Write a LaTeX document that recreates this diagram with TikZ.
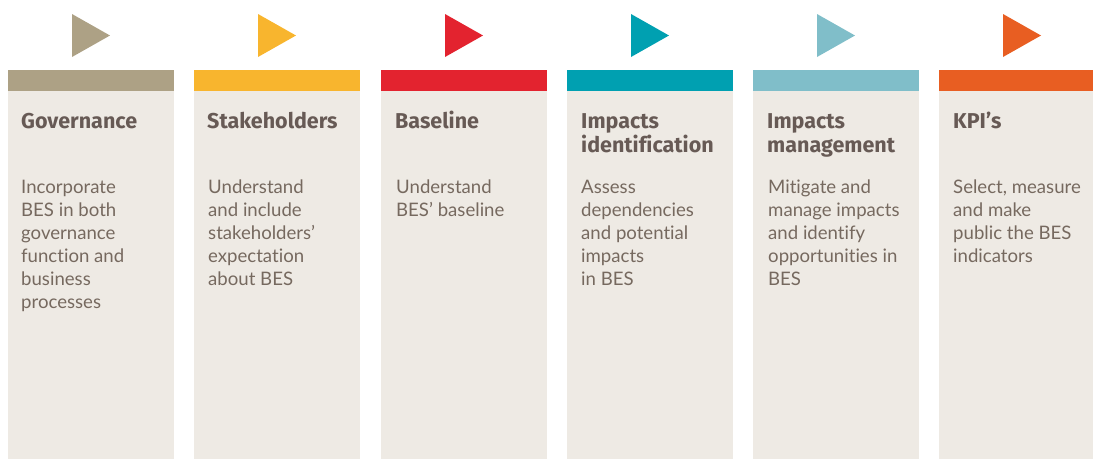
\documentclass[tikz,border=0pt]{standalone}
\usepackage{fontspec}
\setmainfont{Lato}[Ligatures={NoCommon}]
\newfontfamily\titlefont{Fira Sans}[Ligatures={NoCommon}]
\definecolor{boxbg}{HTML}{EEEAE4}
\definecolor{titlec}{HTML}{675A55}
\definecolor{bodyc}{HTML}{76695F}
\definecolor{cA}{HTML}{ADA185}
\definecolor{cB}{HTML}{F8B52E}
\definecolor{cC}{HTML}{E3232F}
\definecolor{cD}{HTML}{00A0B1}
\definecolor{cE}{HTML}{80BEC9}
\definecolor{cF}{HTML}{E85E22}
\newcommand{\mylines}[1]{\begin{tabular}[t]{@{}l@{}}#1\end{tabular}}
\tikzset{
  colbox/.style={fill=boxbg, draw=none, inner sep=0, anchor=north west, minimum height=368},
  colbar/.style={draw=none, inner sep=0, anchor=north west, minimum height=21},
  ttl/.style={anchor=base west, inner sep=0, text=titlec, font=\titlefont\bfseries\fontsize{21.5}{24.5}\selectfont},
  bdy/.style={anchor=base west, inner sep=0, text=bodyc, font=\fontsize{18.6}{23}\selectfont},
}
\begin{document}
\begin{tikzpicture}[x=1pt,y=-1pt]
\useasboundingbox (0,0) rectangle (1093,459);
% triangles
\fill[cA] (72,14) -- (110,35.5) -- (72,57) -- cycle;
\fill[cB] (258,14) -- (296,35.5) -- (258,57) -- cycle;
\fill[cC] (445,14) -- (483,35.5) -- (445,57) -- cycle;
\fill[cD] (631,14) -- (669,35.5) -- (631,57) -- cycle;
\fill[cE] (817,14) -- (855,35.5) -- (817,57) -- cycle;
\fill[cF] (1003,14) -- (1041,35.5) -- (1003,57) -- cycle;
% bars
\node[colbar, fill=cA, minimum width=166] (barA) at (8,70) {};
\node[colbar, fill=cB, minimum width=166] (barB) at (194,70) {};
\node[colbar, fill=cC, minimum width=166] (barC) at (381,70) {};
\node[colbar, fill=cD, minimum width=166] (barD) at (567,70) {};
\node[colbar, fill=cE, minimum width=166] (barE) at (753,70) {};
\node[colbar, fill=cF, minimum width=154] (barF) at (939,70) {};
% boxes
\node[colbox, minimum width=166] (boxA) at (8,91) {};
\node[colbox, minimum width=166] (boxB) at (194,91) {};
\node[colbox, minimum width=166] (boxC) at (381,91) {};
\node[colbox, minimum width=166] (boxD) at (567,91) {};
\node[colbox, minimum width=166] (boxE) at (753,91) {};
\node[colbox, minimum width=154] (boxF) at (939,91) {};
% titles
\node[ttl] (tA) at (21,128) {\mylines{Governance}};
\node[ttl] (tB) at (207,128) {\mylines{Stakeholders}};
\node[ttl] (tC) at (395,128) {\mylines{Baseline}};
\node[ttl] (tD) at (581,128) {\mylines{Impacts\\identification}};
\node[ttl] (tE) at (767,128) {\mylines{Impacts\\management}};
\node[ttl] (tF) at (953,128) {\mylines{KPI’s}};
% bodies
\node[bdy] (dA) at (21,193) {\mylines{Incorporate\\BES in both\\governance\\function and\\business\\processes}};
\node[bdy] (dB) at (208,193) {\mylines{Understand\\and include\\stakeholders’\\expectation\\about BES}};
\node[bdy] (dC) at (396,193) {\mylines{Understand\\BES’ baseline}};
\node[bdy] (dD) at (581,193) {\mylines{Assess\\dependencies\\and potential\\impacts\\in BES}};
\node[bdy] (dE) at (768,193) {\mylines{Mitigate and\\manage impacts\\and identify\\opportunities in\\BES}};
\node[bdy] (dF) at (953,193) {\mylines{Select, measure\\and make\\public the BES\\indicators}};
\end{tikzpicture}
\end{document}
